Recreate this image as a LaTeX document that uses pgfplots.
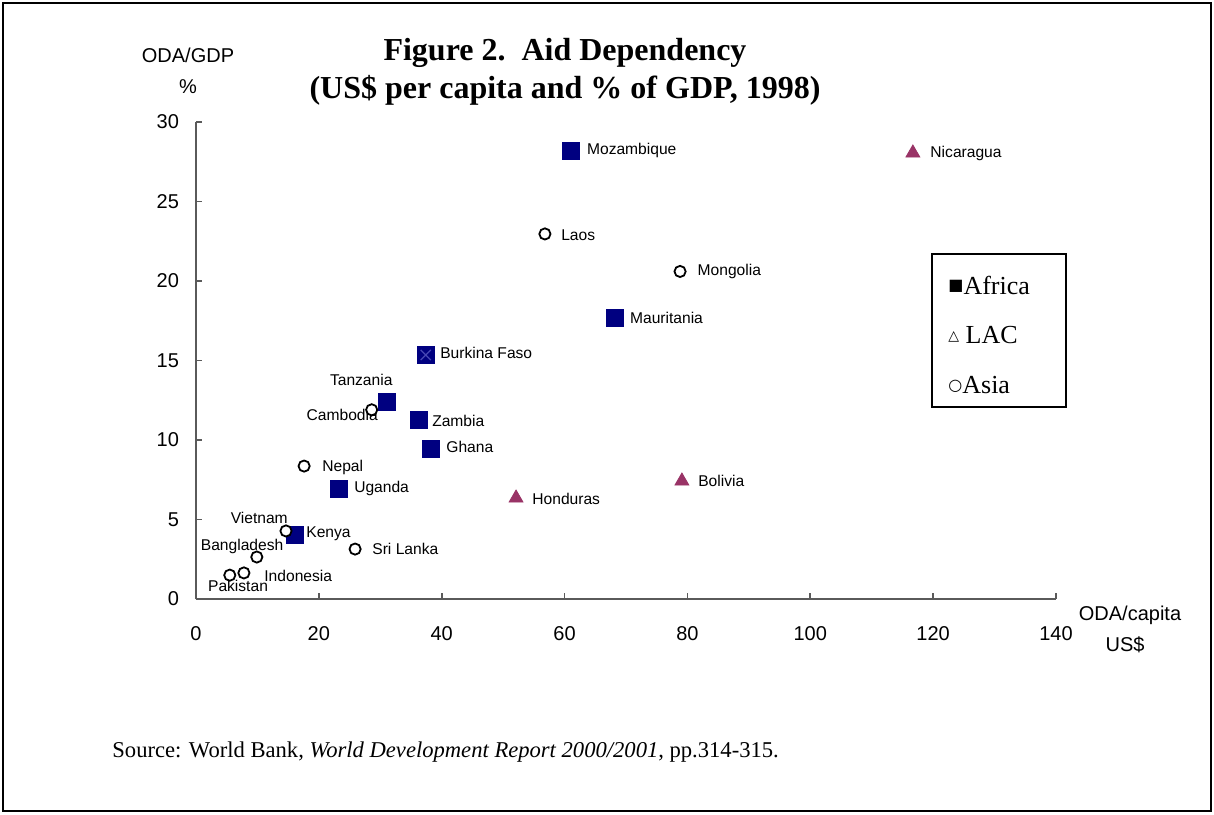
\documentclass[border=0pt]{standalone}
\usepackage{fontspec}
\usepackage{pgfplots}
\pgfplotsset{compat=1.18}
\setmainfont{Liberation Serif}
\newfontfamily\arial{Liberation Sans}
\newfontfamily\sym{DejaVu Sans}
\definecolor{navyc}{RGB}{0,0,128}
\definecolor{lac}{RGB}{153,51,102}
\definecolor{axgray}{RGB}{90,90,90}
\definecolor{xblue}{RGB}{70,70,180}

\begin{document}
\begin{tikzpicture}[lbl/.style={inner sep=0pt, font=\arial\fontsize{7.8}{9}\selectfont}]
\useasboundingbox (0,0) rectangle (607pt,407pt);
\draw[line width=1pt] (1.5pt,1.5pt) rectangle (605.5pt,405.5pt);

% title and axis captions
\node[font=\bfseries\fontsize{16}{19}\selectfont, align=center] at (282.5pt,371pt)
  {Figure 2.\ \ Aid Dependency\\(US\$ per capita and \% of GDP, 1998)};
\node[font=\arial\fontsize{10}{12}\selectfont] at (94pt,379.5pt) {ODA/GDP};
\node[font=\arial\fontsize{10}{12}\selectfont] at (94pt,363.5pt) {\%};
\node[font=\arial\fontsize{10}{12}\selectfont] at (565pt,99.5pt) {ODA/capita};
\node[font=\arial\fontsize{10}{12}\selectfont] at (562.5pt,84.5pt) {US\$};
\node[anchor=west, inner sep=0pt, font=\fontsize{11.3}{13}\selectfont] at (56pt,31pt)
  {Source: World Bank, \textit{World Development Report 2000/2001}, pp.314-315.};

\begin{axis}[
  at={(98pt,107.5pt)}, anchor=south west,
  scale only axis, width=430pt, height=238.5pt,
  xmin=0, xmax=140, ymin=0, ymax=30,
  axis x line=bottom, axis y line=left,
  axis line style={-, axgray, line width=0.8pt},
  xtick={0,20,...,140}, ytick={0,5,...,30},
  tick align=inside, major tick length=3pt,
  tick style={axgray, line width=0.8pt},
  ticklabel style={font=\arial\fontsize{10}{12}\selectfont},
  /pgf/number format/assume math mode=true,
  xticklabel style={yshift=-10pt},
  yticklabel style={xshift=-5pt},
  clip=false,
]
% Africa
\addplot[only marks, mark=square*, mark size=4.25pt, color=navyc] coordinates {
  (61.0,28.2) (68.2,17.7) (37.4,15.35) (31.1,12.4) (36.3,11.26)
  (38.3,9.43) (23.3,6.92) (16.1,4.03)};
\addplot[only marks, mark=x, mark size=3.6pt, color=xblue, line width=0.6pt] coordinates {(37.4,15.35)};
% LAC
\addplot[only marks, mark=triangle*, mark size=4pt, color=lac] coordinates {
  (116.7,28.05) (52.1,6.35) (79.1,7.42)};
% Asia
\addplot[only marks, mark=*, mark size=2.8pt, draw=black, fill=white, line width=0.9pt] coordinates {
  (56.8,22.96) (78.8,20.6) (28.6,11.9) (17.6,8.36) (14.65,4.28)
  (25.9,3.14) (9.9,2.64) (7.8,1.64) (5.5,1.5)};

\node[lbl, anchor=west] at (axis cs:63.6,28.18) {Mozambique};
\node[lbl, anchor=west] at (axis cs:119.5,28.05) {Nicaragua};
\node[lbl, anchor=west] at (axis cs:59.4,22.9) {Laos};
\node[lbl, anchor=west] at (axis cs:81.6,20.6) {Mongolia};
\node[lbl, anchor=west] at (axis cs:70.6,17.7) {Mauritania};
\node[lbl, anchor=west] at (axis cs:39.7,15.5) {Burkina Faso};
\node[lbl] at (axis cs:26.9,13.8) {Tanzania};
\node[lbl] at (axis cs:23.8,11.6) {Cambodia};
\node[lbl, anchor=west] at (axis cs:38.4,11.2) {Zambia};
\node[lbl, anchor=west] at (axis cs:40.7,9.56) {Ghana};
\node[lbl, anchor=west] at (axis cs:20.5,8.3) {Nepal};
\node[lbl, anchor=west] at (axis cs:25.7,6.98) {Uganda};
\node[lbl, anchor=west] at (axis cs:54.7,6.29) {Honduras};
\node[lbl, anchor=west] at (axis cs:81.7,7.42) {Bolivia};
\node[lbl] at (axis cs:10.3,5.1) {Vietnam};
\node[lbl, anchor=west] at (axis cs:17.9,4.09) {Kenya};
\node[lbl, anchor=west] at (axis cs:28.65,3.14) {Sri Lanka};
\node[lbl] at (axis cs:7.5,3.33) {Bangladesh};
\node[lbl, anchor=west] at (axis cs:11.07,1.45) {Indonesia};
\node[lbl] at (axis cs:6.84,0.82) {Pakistan};
\end{axis}

% legend box
\draw[line width=0.8pt] (466pt,203.5pt) rectangle (533pt,280pt);
\node[anchor=west, inner sep=0pt] at (474pt,264.5pt)
  {\raisebox{1.6pt}{\sym\fontsize{8}{8}\selectfont ■}{\fontsize{13}{15}\selectfont Africa}};
\node[anchor=west, inner sep=0pt] at (474pt,239.5pt)
  {\raisebox{1.6pt}{\sym\fontsize{7}{7}\selectfont △}{\fontsize{13}{15}\selectfont\ LAC}};
\node[anchor=west, inner sep=0pt] at (474pt,214.5pt)
  {\raisebox{1.6pt}{\sym\fontsize{8}{8}\selectfont ○}{\fontsize{13}{15}\selectfont Asia}};
\end{tikzpicture}
\end{document}
